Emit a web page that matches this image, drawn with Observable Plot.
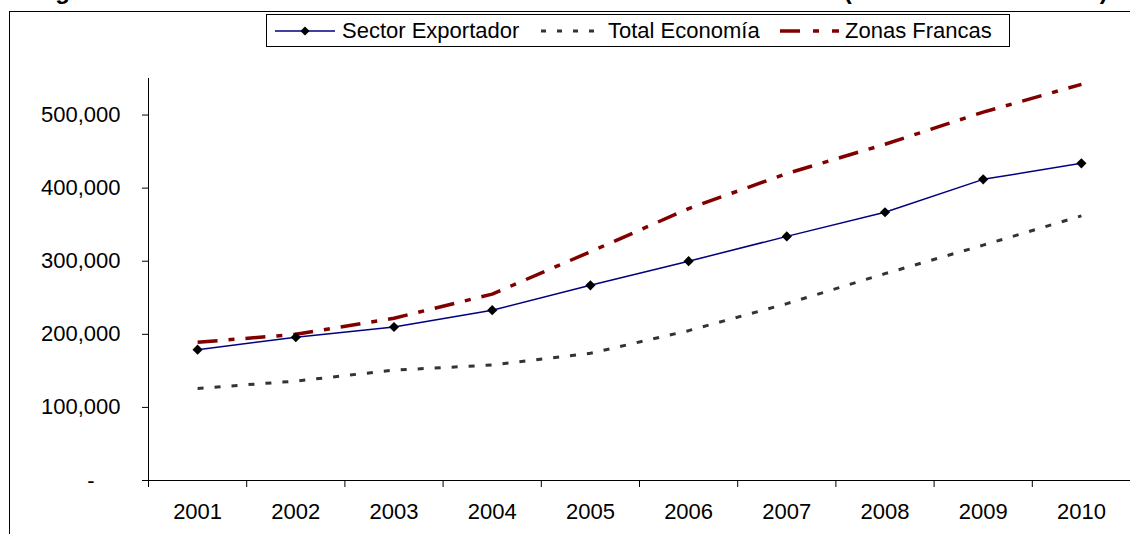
<!DOCTYPE html>
<html><head><meta charset="utf-8">
<script src="https://cdn.jsdelivr.net/npm/d3@7"></script>
<script src="https://cdn.jsdelivr.net/npm/@observablehq/plot@0.6"></script>
<style>
html,body{margin:0;padding:0;background:#fff;overflow:hidden;}
#wrap{position:relative;width:1130px;height:534px;overflow:hidden;font-family:"Liberation Sans",Arial,sans-serif;color:#000;}
#chart{position:absolute;left:0;top:0;}
#frame{position:absolute;left:9px;top:11px;width:1300px;height:700px;border-top:1.5px solid #000;border-left:1.5px solid #000;pointer-events:none;}
#title{position:absolute;left:34px;top:-21px;font-weight:bold;font-size:24px;line-height:24px;white-space:nowrap;}
#legend{position:absolute;left:266px;top:14px;width:744px;height:33px;box-sizing:border-box;border:1px solid #000;background:#fff;}
#legend span{position:absolute;top:4.5px;font-size:22px;line-height:22px;white-space:nowrap;}
#legend svg{position:absolute;left:0;top:0;}
</style></head>
<body>
<div id="wrap">
  <div id="chart"></div>
  <div id="frame"></div>
  <div id="title"></div>
  <div id="legend"></div>
</div>
<script>
// ---- data ----
const titleText = "Figura 3. Salario medio mensual nominal de los asalariados 2001-2010 (en colones corrientes)";
const years = [2001, 2002, 2003, 2004, 2005, 2006, 2007, 2008, 2009, 2010];
const sectorExportador = [179000, 196000, 210000, 233000, 267000, 300000, 334000, 367000, 412000, 434000];
const totalEconomia    = [126000, 136000, 151000, 158000, 174000, 205000, 242000, 283000, 322000, 362000];
const zonasFrancas     = [189000, 200000, 222000, 255000, 313000, 372000, 420000, 460000, 504000, 542000];
const seriesNames = ["Sector Exportador", "Total Economía", "Zonas Francas"];
const yTicks = [100000, 200000, 300000, 400000, 500000];

// ---- styles ----
const styles = {
  "Sector Exportador": {stroke: "#000080", strokeWidth: 1.5, dash: null, legendDash: null, marker: true},
  "Total Economía":    {stroke: "#333333", strokeWidth: 3, dash: "6,11", legendDash: "5,11", marker: false},
  "Zonas Francas":     {stroke: "#800000", strokeWidth: 3.5, dash: "20,11,6,11", legendDash: "20,13,6,13", marker: false}
};

const rows = vals => years.map((year, i) => ({year, value: vals[i]}));
const seriesData = {
  "Sector Exportador": rows(sectorExportador),
  "Total Economía": rows(totalEconomia),
  "Zonas Francas": rows(zonasFrancas)
};
const yearBounds = years.map(y => y - 0.5).concat([years[years.length - 1] + 0.5]);

const lineMarks = ["Total Economía", "Zonas Francas", "Sector Exportador"].map(name => {
  const s = styles[name];
  return Plot.line(seriesData[name], {
    x: "year", y: "value", stroke: s.stroke, strokeWidth: s.strokeWidth,
    strokeDasharray: s.dash || undefined, strokeLinecap: "butt", strokeLinejoin: "round"
  });
});

const chart = Plot.plot({
  width: 1130, height: 534,
  marginLeft: 148, marginRight: 0, marginTop: 78, marginBottom: 54,
  style: {fontFamily: '"Liberation Sans", Arial, sans-serif', fontSize: "22px", color: "#000", background: "transparent", overflow: "visible"},
  x: {type: "linear", domain: [yearBounds[0], yearBounds[yearBounds.length - 1]]},
  y: {domain: [0, 550000]},
  marks: [
    Plot.axisY({ticks: yTicks, tickSize: 6, tickPadding: 22, tickFormat: d3.format(","), label: null}),
    Plot.axisY({ticks: [0], tickSize: 6, tickPadding: 48, tickFormat: () => "-", label: null}),
    Plot.axisX({ticks: yearBounds, tickSize: 7, tickFormat: () => "", label: null}),
    Plot.axisX({ticks: years, tickSize: 0, tickPadding: 23, tickFormat: d => String(d), label: null}),
    Plot.ruleX([yearBounds[0]], {stroke: "#000", strokeWidth: 1}),
    Plot.ruleY([0], {stroke: "#000", strokeWidth: 1}),
    ...lineMarks,
    Plot.dot(seriesData["Sector Exportador"], {x: "year", y: "value", symbol: "diamond2", r: 4.6, fill: "#000", stroke: "none"})
  ]
});
document.getElementById("chart").appendChild(chart);

// ---- title ----
document.getElementById("title").textContent = titleText;

// ---- legend ----
const legend = document.getElementById("legend");
const sampleX = {"Sector Exportador": [8, 68], "Total Economía": [274, 334], "Zonas Francas": [513, 572]};
const textX = {"Sector Exportador": 75, "Total Economía": 341, "Zonas Francas": 578};
const svgNS = "http://www.w3.org/2000/svg";
const lsvg = document.createElementNS(svgNS, "svg");
lsvg.setAttribute("width", 742); lsvg.setAttribute("height", 31);
seriesNames.forEach(name => {
  const s = styles[name];
  const [x1, x2] = sampleX[name];
  const ln = document.createElementNS(svgNS, "line");
  ln.setAttribute("x1", x1); ln.setAttribute("x2", x2);
  ln.setAttribute("y1", 16); ln.setAttribute("y2", 16);
  ln.setAttribute("stroke", s.stroke);
  ln.setAttribute("stroke-width", s.strokeWidth);
  if (s.legendDash) ln.setAttribute("stroke-dasharray", s.legendDash);
  lsvg.appendChild(ln);
  if (s.marker) {
    const cx = (x1 + x2) / 2, cy = 16, r = 4.6;
    const p = document.createElementNS(svgNS, "path");
    p.setAttribute("d", `M${cx},${cy - r}L${cx + r},${cy}L${cx},${cy + r}L${cx - r},${cy}Z`);
    p.setAttribute("fill", "#000");
    lsvg.appendChild(p);
  }
  const sp = document.createElement("span");
  sp.style.left = textX[name] + "px";
  sp.textContent = name;
  legend.appendChild(sp);
});
legend.appendChild(lsvg);
</script>
</body></html>
